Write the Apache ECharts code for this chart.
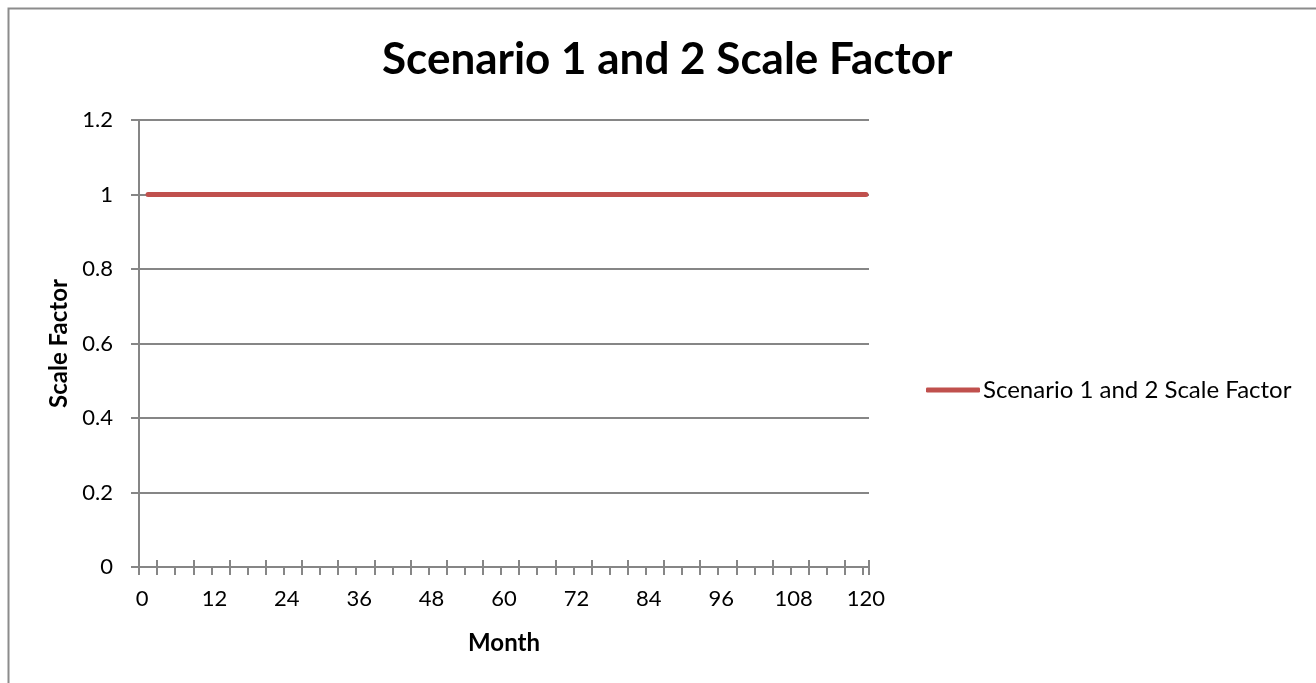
<!DOCTYPE html>
<html>
<head>
<meta charset="utf-8">
<title>Scenario 1 and 2 Scale Factor</title>
<script src="https://cdn.jsdelivr.net/npm/echarts@6/dist/echarts.min.js"></script>
<style>
  html, body { margin: 0; padding: 0; background: #ffffff; }
  #chart { width: 1316px; height: 683px; }
</style>
</head>
<body>
<div id="chart"></div>
<script>
// Month categories along the x axis
const months = [
  '0','1','2','3','4','5','6','7','8','9','10','11','12','13','14','15','16','17','18','19','20',
  '21','22','23','24','25','26','27','28','29','30','31','32','33','34','35','36','37','38','39','40',
  '41','42','43','44','45','46','47','48','49','50','51','52','53','54','55','56','57','58','59','60',
  '61','62','63','64','65','66','67','68','69','70','71','72','73','74','75','76','77','78','79','80',
  '81','82','83','84','85','86','87','88','89','90','91','92','93','94','95','96','97','98','99','100',
  '101','102','103','104','105','106','107','108','109','110','111','112','113','114','115','116','117','118','119','120'
];

// Scale factor per month (no value at month 0)
const scaleFactor = [
  null,
  1,1,1,1,1,1,1,1,1,1,1,1,1,1,1,1,1,1,1,1,
  1,1,1,1,1,1,1,1,1,1,1,1,1,1,1,1,1,1,1,1,
  1,1,1,1,1,1,1,1,1,1,1,1,1,1,1,1,1,1,1,1,
  1,1,1,1,1,1,1,1,1,1,1,1,1,1,1,1,1,1,1,1,
  1,1,1,1,1,1,1,1,1,1,1,1,1,1,1,1,1,1,1,1,
  1,1,1,1,1,1,1,1,1,1,1,1,1,1,1,1,1,1,1,1
];

const seriesName = 'Scenario 1 and 2 Scale Factor';
const yTicks = [0, 0.2, 0.4, 0.6, 0.8, 1, 1.2];

const FONT = 'Lato, "Open Sans", sans-serif';
const GRAY = '#868686';
const RED = '#C0504D';

const chart = echarts.init(document.getElementById('chart'), null, { renderer: 'canvas' });

chart.setOption({
  backgroundColor: '#ffffff',
  animation: false,
  title: {
    text: 'Scenario 1 and 2 Scale Factor',
    left: 377,
    top: 33,
    textStyle: { fontFamily: FONT, fontWeight: 'bold', fontSize: 44, color: '#000000' }
  },
  legend: {
    left: 926,
    top: 378,
    padding: 0,
    orient: 'vertical',
    itemWidth: 54,
    itemHeight: 5,
    icon: 'roundRect',
    itemStyle: { color: RED },
    textStyle: { fontFamily: FONT, fontSize: 24, color: '#000000', padding: [0, 0, 0, -2] },
    data: [seriesName]
  },
  grid: { left: 139, right: 447, top: 120, bottom: 116, containLabel: false },
  xAxis: [
    {
      type: 'category',
      data: months,
      boundaryGap: true,
      name: 'Month',
      nameLocation: 'middle',
      nameGap: 64,
      nameTextStyle: { fontFamily: FONT, fontWeight: 'bold', fontSize: 24, color: '#000000' },
      axisLine: { lineStyle: { color: GRAY, width: 2 } },
      axisTick: {
        show: true,
        length: 8,
        interval: (i) => i % 3 === 0,
        lineStyle: { color: GRAY, width: 2 }
      },
      axisLabel: {
        interval: (i) => i % 12 === 0,
        margin: 21,
        fontFamily: FONT,
        fontSize: 22,
        color: '#000000'
      },
      splitLine: { show: false }
    },
    {
      // inner half of the crossing ticks
      type: 'category',
      data: months,
      boundaryGap: true,
      position: 'bottom',
      axisLine: { show: false },
      axisTick: {
        show: true,
        inside: true,
        length: 7,
        interval: (i) => i % 6 === 3,
        lineStyle: { color: GRAY, width: 2 }
      },
      axisLabel: { show: false },
      splitLine: { show: false }
    }
  ],
  yAxis: {
    type: 'value',
    min: 0,
    max: 1.2,
    interval: 0.2,
    name: 'Scale Factor',
    nameLocation: 'middle',
    nameGap: 68,
    nameRotate: 90,
    nameTextStyle: { fontFamily: FONT, fontWeight: 'bold', fontSize: 24, color: '#000000' },
    axisLine: { show: true, lineStyle: { color: GRAY, width: 2 } },
    axisTick: { show: true, length: 8, lineStyle: { color: GRAY, width: 2 } },
    axisLabel: {
      margin: 26,
      fontFamily: FONT,
      fontSize: 22,
      color: '#000000',
      formatter: (v) => {
        const t = yTicks.find((y) => Math.abs(y - v) < 1e-9);
        return String(t !== undefined ? t : v);
      }
    },
    splitLine: { show: true, lineStyle: { color: GRAY, width: 2 } }
  },
  series: [
    {
      name: seriesName,
      type: 'line',
      xAxisIndex: 0,
      data: scaleFactor,
      showSymbol: false,
      symbol: 'none',
      connectNulls: false,
      lineStyle: { color: RED, width: 5, cap: 'round' },
      itemStyle: { color: RED }
    }
  ],
  graphic: [
    {
      type: 'rect',
      left: 6,
      top: 6,
      shape: { width: 1330, height: 700 },
      style: { fill: null, stroke: '#8c8c8c', lineWidth: 2 },
      silent: true,
      z: -1
    }
  ]
});
</script>
</body>
</html>
